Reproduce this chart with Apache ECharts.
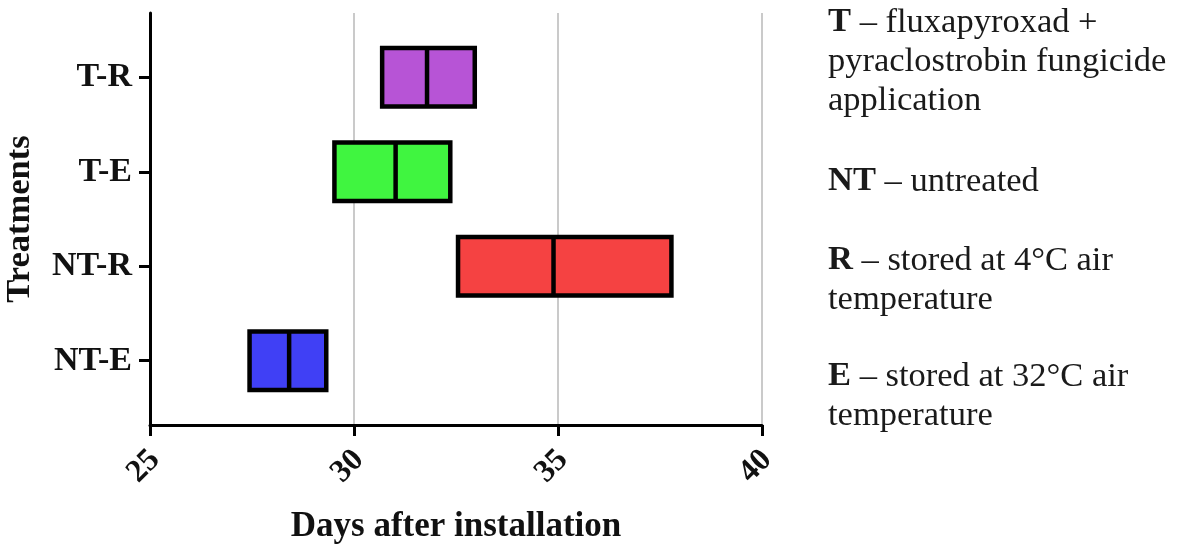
<!DOCTYPE html>
<html><head><meta charset="utf-8">
<script src="https://cdn.jsdelivr.net/npm/echarts@6/dist/echarts.min.js"></script>
<style>html,body{margin:0;padding:0;background:#fff}#c{width:1177px;height:550px}</style>
</head><body><div id="c"></div>
<script>
// Data
const categories = ['NT-E', 'NT-R', 'T-E', 'T-R'];      // bottom to top
const startDays  = [27.44, 32.55, 29.52, 30.69];
const medianDays = [28.41, 34.89, 31.02, 31.79];
const endDays    = [29.32, 37.78, 32.36, 32.96];
const xTicks = [25, 30, 35, 40];
const xTitle = 'Days after installation';
const yTitle = 'Treatments';
const notes = [
  ['T', ' – fluxapyroxad +\npyraclostrobin fungicide\napplication'],
  ['NT', ' – untreated'],
  ['R', ' – stored at 4°C air\ntemperature'],
  ['E', ' – stored at 32°C air\ntemperature']
];

// Styles
const boxColors = ['#4040f5', '#f54242', '#40f540', '#b754d6'];
const HALF = 0.31;
const SERIF = '"Liberation Serif", "DejaVu Serif", serif';

const seriesData = categories.map((c, i) => [i + 1, startDays[i], medianDays[i], endDays[i]]);

const noteTops = [3, 162, 241, 357];
const graphics = notes.map((n, i) => ({
  type: 'text', left: 828, top: noteTops[i],
  style: {
    text: '{b|' + n[0] + '}' + n[1].split('\n').map(l => '{r|' + l + '}').join('\n'),
    rich: {
      b: { fontFamily: SERIF, fontSize: 34.5, fontWeight: 'bold', fill: '#1a1a1a', lineHeight: 39 },
      r: { fontFamily: SERIF, fontSize: 34.5, fontWeight: 'normal', fill: '#1a1a1a', lineHeight: 39 }
    },
    fontFamily: SERIF, fontSize: 34.5, lineHeight: 39, fill: '#1a1a1a'
  }
}));

const chart = echarts.init(document.getElementById('c'));
chart.setOption({
  animation: false,
  backgroundColor: '#fff',
  grid: { left: 150, top: 13, right: 415, bottom: 125, containLabel: false, outerBoundsMode: 'none' },
  xAxis: {
    type: 'value', min: 25, max: 40, interval: 5,
    name: xTitle, nameLocation: 'middle', nameGap: 84,
    nameTextStyle: { fontFamily: SERIF, fontSize: 35, fontWeight: 'bold', color: '#111' },
    axisLine: { show: true, onZero: false, lineStyle: { color: '#000', width: 3 } },
    axisTick: { show: true, length: 11, lineStyle: { color: '#000', width: 3 } },
    axisLabel: { rotate: 45, margin: 35, padding: [0, -7, 0, 0], fontFamily: SERIF, fontSize: 32, fontWeight: 'bold', color: '#111',
      formatter: v => xTicks.indexOf(v) >= 0 ? String(v) : '' },
    splitLine: { show: true, lineStyle: { color: '#b8b8b8', width: 1.5 } }
  },
  yAxis: {
    type: 'value', min: 0.32, max: 4.68,
    name: yTitle, nameLocation: 'middle', nameGap: 112, nameRotate: 90,
    nameTextStyle: { fontFamily: SERIF, fontSize: 34.5, fontWeight: 'bold', color: '#111' },
    axisLine: { show: true, onZero: false, lineStyle: { color: '#000', width: 3 } },
    axisTick: { show: true, length: 11, customValues: [1, 2, 3, 4], lineStyle: { color: '#000', width: 3 } },
    axisLabel: { show: true, margin: 18, customValues: [1, 2, 3, 4], fontFamily: SERIF, fontSize: 34, fontWeight: 'bold', color: '#111',
      formatter: v => categories[Math.round(v) - 1] || '' },
    splitLine: { show: false }
  },
  graphic: graphics,
  series: [{
    type: 'custom',
    clip: false,
    data: seriesData,
    encode: { x: [1, 2, 3], y: 0 },
    renderItem: function (params, api) {
      const y = api.value(0), s = api.value(1), m = api.value(2), e = api.value(3);
      const p1 = api.coord([s, y + HALF]);
      const p2 = api.coord([e, y - HALF]);
      const pm1 = api.coord([m, y + HALF]);
      const pm2 = api.coord([m, y - HALF]);
      return {
        type: 'group',
        children: [
          { type: 'rect', shape: { x: p1[0], y: p1[1], width: p2[0] - p1[0], height: p2[1] - p1[1] },
            style: { fill: boxColors[params.dataIndex], stroke: '#000', lineWidth: 4.5 } },
          { type: 'line', shape: { x1: pm1[0], y1: pm1[1], x2: pm2[0], y2: pm2[1] },
            style: { stroke: '#000', lineWidth: 4.5 } }
        ]
      };
    }
  }]
});
</script></body></html>
